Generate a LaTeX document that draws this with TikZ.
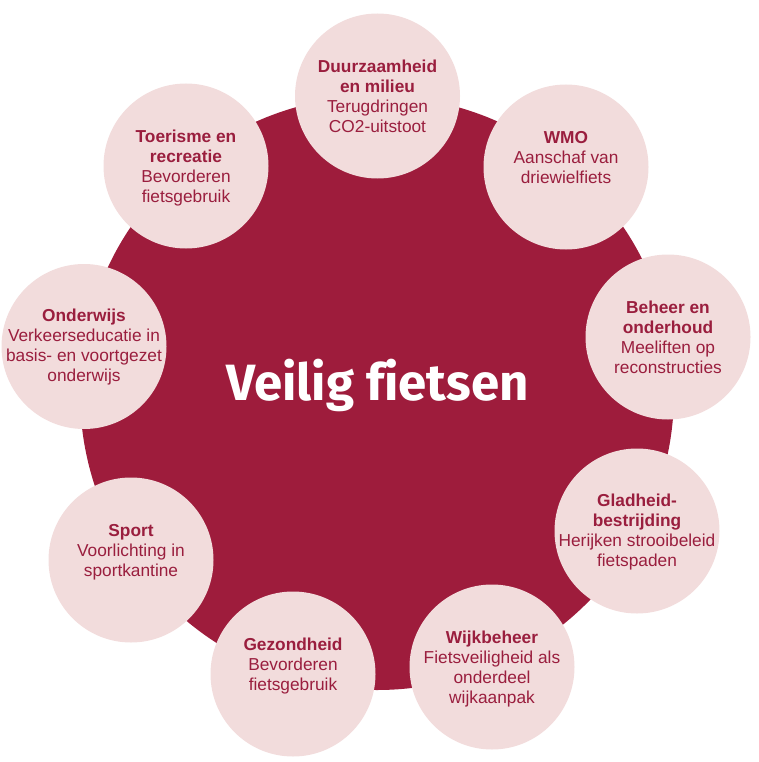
\documentclass[tikz,border=0pt]{standalone}
\usepackage{fontspec}
\setmainfont{Liberation Sans}
\newfontfamily\titlefont[Ligatures={NoCommon}]{Fira Sans}
\definecolor{bigred}{HTML}{9E1C3C}
\definecolor{pinkc}{HTML}{F2DCDC}
\definecolor{txtred}{HTML}{9A1E3E}
\begin{document}
\begin{tikzpicture}[x=1pt,y=-1pt,
  topic/.style={circle,fill=pinkc,draw=none,inner sep=0pt,minimum size=165pt},
  lbl/.style={anchor=north,inner sep=0pt,align=center,text=txtred,font=\fontsize{17.3}{20}\selectfont},
  hub/.style={circle,fill=bigred,draw=none,inner sep=0pt,minimum size=594pt}]
\useasboundingbox (0,0) rectangle (758,762);
\node[hub] (hub) at (377,393) {};
\node[anchor=base,text=white,font=\titlefont\bfseries\fontsize{51}{58}\selectfont] (title) at (377.5,400) {Veilig f{}ietsen};
\node[topic] (c1) at (377.5,96) {};
\node[topic] (c2) at (566,167) {};
\node[topic] (c3) at (668,337) {};
\node[topic] (c4) at (637,531) {};
\node[topic] (c5) at (492,667) {};
\node[topic] (c6) at (293,674) {};
\node[topic] (c7) at (131,560) {};
\node[topic] (c8) at (84,346.5) {};
\node[topic] (c9) at (186,166) {};
\node[lbl] (t1) at (377.5,60) {\textbf{Duurzaamheid}\\\textbf{en milieu}\\Terugdringen\\CO2-uitstoot};
\node[lbl] (t2) at (566,131) {\textbf{WMO}\\Aanschaf van\\driewielfiets};
\node[lbl] (t3) at (668,301) {\textbf{Beheer en}\\\textbf{onderhoud}\\Meeliften op\\reconstructies};
\node[lbl] (t4) at (637,494) {\textbf{Gladheid-}\\\textbf{bestrijding}\\Herijken strooibeleid\\fietspaden};
\node[lbl] (t5) at (492,631) {\textbf{Wijkbeheer}\\Fietsveiligheid als\\onderdeel\\wijkaanpak};
\node[lbl] (t6) at (293,638) {\textbf{Gezondheid}\\Bevorderen\\fietsgebruik};
\node[lbl] (t7) at (131,524) {\textbf{Sport}\\Voorlichting in\\sportkantine};
\node[lbl] (t8) at (84,309) {\textbf{Onderwijs}\\Verkeerseducatie in\\basis- en voortgezet\\onderwijs};
\node[lbl] (t9) at (186,130) {\textbf{Toerisme en}\\\textbf{recreatie}\\Bevorderen\\fietsgebruik};
\end{tikzpicture}
\end{document}
